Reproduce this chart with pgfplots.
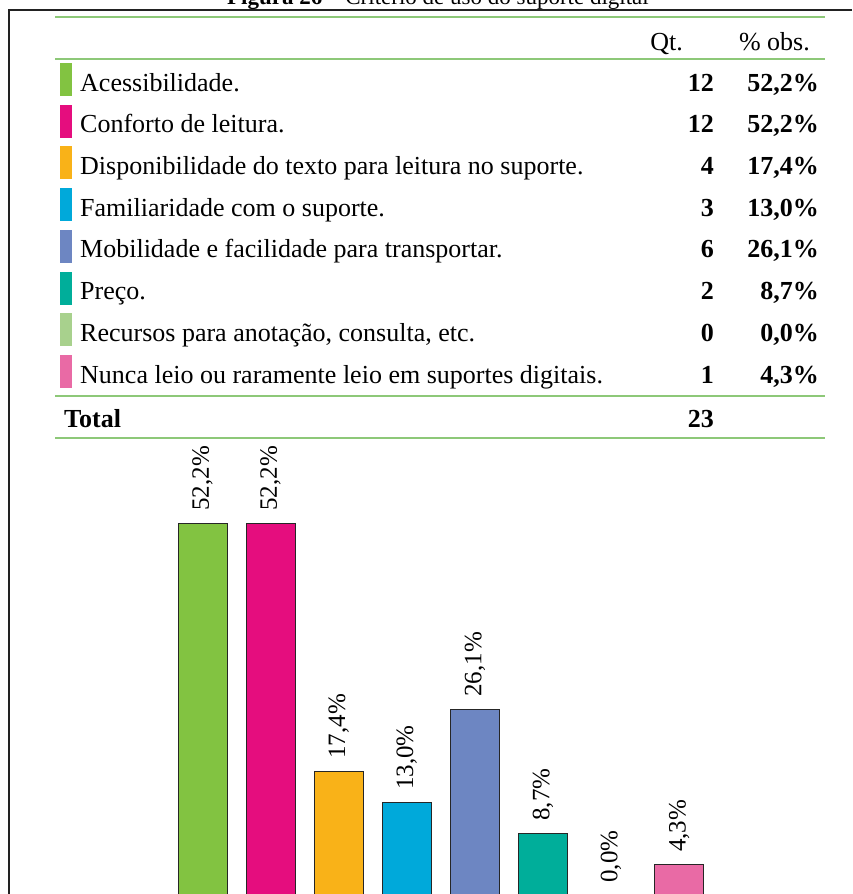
\documentclass[border=0pt]{standalone}
\usepackage{pgfplots}
\pgfplotsset{compat=1.18}
\usepackage{fontspec}
\setmainfont{Liberation Serif}
\definecolor{c1}{HTML}{82C341}
\definecolor{c2}{HTML}{E50D7E}
\definecolor{c3}{HTML}{F9B218}
\definecolor{c4}{HTML}{00A9DA}
\definecolor{c5}{HTML}{6D86C2}
\definecolor{c6}{HTML}{00AE9A}
\definecolor{c7}{HTML}{A8D18D}
\definecolor{c8}{HTML}{E96AA5}
\definecolor{rulegreen}{HTML}{8DC878}
\definecolor{frame}{HTML}{222222}
\newcommand{\sw}[1]{\textcolor{#1}{\rule[-5pt]{12pt}{33pt}}}
\begin{document}
\begin{tikzpicture}[x=1pt,y=1pt]
\useasboundingbox (0,0) rectangle (852,-894);
\clip (0,0) rectangle (852,-894);
\fontsize{26}{30}\selectfont
% title (cut at top, as in the reference)
\node[anchor=base, inner sep=0pt, font=\fontsize{23}{27}\selectfont] at (438,-5) {\textbf{Figura 26} – Critério de uso do suporte digital};
% frame
\draw[frame, line width=2.8pt] (852,-10) -- (9,-10) -- (9,-900);
% green rules
\foreach \yy in {17,59,396,438} \draw[rulegreen, line width=1.2pt] (55,-\yy) -- (825,-\yy);
% header
\node[anchor=base east, inner sep=0pt] at (683,-50) {Qt.};
\node[anchor=base east, inner sep=0pt] at (810,-50) {\% obs.};
% rows
\newcommand{\row}[5]{%
  \node[anchor=base west, inner sep=0pt] at (60,-#1) {\sw{#2}};
  \node[anchor=base west, inner sep=0pt] at (80,-#1) {#3};
  \node[anchor=base east, inner sep=0pt] at (714,-#1) {\textbf{#4}};
  \node[anchor=base east, inner sep=0pt] at (819,-#1) {\textbf{#5}};}
\row{91}{c1}{Acessibilidade.}{12}{52,2\%}
\row{132.7}{c2}{Conforto de leitura.}{12}{52,2\%}
\row{174.4}{c3}{Disponibilidade do texto para leitura no suporte.}{4}{17,4\%}
\row{216}{c4}{Familiaridade com o suporte.}{3}{13,0\%}
\row{257.8}{c5}{Mobilidade e facilidade para transportar.}{6}{26,1\%}
\row{299.5}{c6}{Preço.}{2}{8,7\%}
\row{341}{c7}{Recursos para anotação, consulta, etc.}{0}{0,0\%}
\row{383}{c8}{Nunca leio ou raramente leio em suportes digitais.}{1}{4,3\%}
\node[anchor=base west, inner sep=0pt] at (64,-427) {\textbf{Total}};
\node[anchor=base east, inner sep=0pt] at (714,-427) {\textbf{23}};
% bar chart
\begin{axis}[
  at={(168.45pt,-895pt)}, anchor=south west,
  scale only axis, width=544.8pt, height=427.6pt,
  xmin=-0.5, xmax=7.5, ymin=0, ymax=60,
  axis lines=none, clip=false,
  ybar, bar width=49pt, bar shift=0pt,
  every axis plot/.append style={draw=black!85, line width=0.8pt},
  nodes near coords={\pgfmathprintnumber[fixed,fixed zerofill,precision=1,use comma,assume math mode=true]{\pgfplotspointmeta}\%},
  every node near coord/.append style={rotate=90, anchor=west, inner xsep=8pt, inner ysep=0pt, black, font=\fontsize{25}{30}\selectfont, xshift=4pt},
]
\addplot[fill=c1] coordinates {(0,52.2)};
\addplot[fill=c2] coordinates {(1,52.2)};
\addplot[fill=c3] coordinates {(2,17.4)};
\addplot[fill=c4] coordinates {(3,13.0)};
\addplot[fill=c5] coordinates {(4,26.1)};
\addplot[fill=c6] coordinates {(5,8.7)};
\addplot[fill=c7] coordinates {(6,0.0)};
\addplot[fill=c8] coordinates {(7,4.3)};
\end{axis}
\end{tikzpicture}
\end{document}
